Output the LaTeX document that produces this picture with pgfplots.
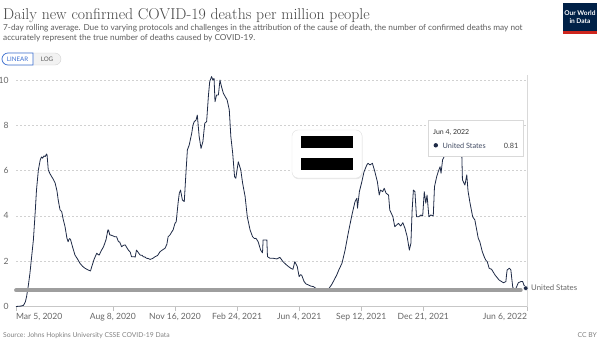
\documentclass[border=0pt]{standalone}
\usepackage{pgfplots}
\pgfplotsset{compat=1.18}
\usepackage{fontspec}
\newfontfamily\lato{Lato}
\usetikzlibrary{shadows}
\definecolor{usline}{RGB}{30,42,70}
\definecolor{owidnavy}{RGB}{0,33,71}
\definecolor{owidred}{RGB}{206,38,30}
\definecolor{txtgray}{RGB}{92,92,92}
\definecolor{tickgray}{RGB}{102,102,102}
\definecolor{btnblue}{RGB}{60,111,209}
\begin{document}
\begin{tikzpicture}[x=1bp,y=-1bp]
\path[use as bounding box] (0,0) rectangle (600,342);
% title block
\node[anchor=base west, inner sep=0pt, text=black!72] at (3,19.5) {\fontsize{15.8}{18}\selectfont Daily new confirmed COVID-19 deaths per million people};
\node[anchor=base west, inner sep=0pt, text=txtgray] at (3,30) {\lato\fontsize{8.3}{9}\selectfont 7-day rolling average. Due to varying protocols and challenges in the attribution of the cause of death, the number of confirmed deaths may not};
\node[anchor=base west, inner sep=0pt, text=txtgray] at (3,40.5) {\lato\fontsize{8.3}{9}\selectfont accurately represent the true number of deaths caused by COVID-19.};
% logo
\fill[owidnavy] (563,3) rectangle (597,31);
\fill[owidred] (563,31) rectangle (597,33.5);
\node[text=white, inner sep=0pt, align=center, font=\lato\bfseries\fontsize{6.6}{7.4}\selectfont] at (580,17) {Our World\\in Data};
% buttons
\draw[draw=black!18, fill=black!5, rounded corners=6bp] (2,53) rectangle (61,65);
\draw[draw=btnblue, fill=white, line width=0.7bp] (33,53) [rounded corners=6bp] -- (2,53) -- (2,65) [sharp corners] -- (33,65) -- cycle;
\node[text=btnblue, inner sep=0pt] at (17.5,59.2) {\lato\fontsize{6.2}{7}\selectfont LINEAR};
\node[text=black!65, inner sep=0pt] at (47,59.2) {\lato\fontsize{6.2}{7}\selectfont LOG};
\begin{axis}[
  at={(16bp,-306.5bp)}, anchor=south west,
  scale only axis, width=511bp, height=232.2bp,
  xmin=0, xmax=823, ymin=0, ymax=10.25,
  axis line style={draw=none},
  tick pos=left, tick align=outside,
  xtick={0,156,256,356,456,556,656,823},
  xticklabels={{\makebox[0pt][l]{Mar 5, 2020}},{Aug 8, 2020},{Nov 16, 2020},{Feb 24, 2021},{Jun 4, 2021},{Sep 12, 2021},{Dec 21, 2021},{\makebox[0pt][r]{Jun 6, 2022}}},
  ytick={0,2,4,6,8,10},
  major tick length=4bp,
  xtick style={draw=black!25, line width=0.5bp},
  ytick style={draw=none},
  ymajorgrids,
  grid style={draw=black!18, dash pattern=on 2bp off 2bp, line width=0.5bp},
  ticklabel style={font=\lato\fontsize{8.6}{10}\selectfont, text=tickgray},
  xticklabel style={yshift=0.5bp},
  /pgf/number format/assume math mode=true,
  clip=false,
]
\draw[black!22, line width=0.6bp] (axis cs:0,0) -- (axis cs:823,0);
\draw[black!15, line width=0.6bp] (axis cs:823,0) -- (axis cs:823,10.2);
\addplot[color=usline, line width=0.8bp, line join=round] table {
0 0
8 0.02
12 0.05
15 0.2
17 0.43
20 0.95
22.5 1.48
25 2.15
28 2.94
31 4.2
33 5.14
36 6.02
39 6.47
41 6.60
43 6.55
45 6.65
47 6.62
49 6.73
50 6.70
52 6.02
55 5.85
57.5 5.73
60 5.62
63 5.45
66 5.1
68 4.70
70 4.40
71 4.26
73.6 4.19
76 3.85
79 3.52
82 3.02
84 2.86
85 2.95
86.5 3.0
88 2.94
91 2.64
95 2.27
99 2.1
103 1.91
107 1.78
111 1.69
115 1.63
119 1.58
120 1.57
122 1.76
126 2.1
130 2.35
132 2.30
134 2.27
137 2.45
141 2.64
145 2.95
148 3.38
149 3.38
151 3.16
153 3.15
156 3.12
159 3.08
162 3.08
165 2.86
167 2.85
170 2.64
173 2.70
176 2.72
178 2.62
181 2.49
184 2.40
186 2.20
190 2.20
192 2.18
194 2.49
197 2.38
200 2.27
203 2.26
205 2.20
208 2.18
210 2.13
213 2.12
216 2.08
220 2.12
224 2.20
228 2.25
232 2.42
236 2.50
240 2.57
243 2.75
245 3.08
248 3.16
251 3.30
253 3.38
256 3.67
258 3.74
261 4.56
263 5.0
265 5.14
268 4.70
271 4.63
274 6.03
276 6.91
279 7.13
283 7.65
285 8.0
287 8.16
290 8.23
292 8.45
295 7.50
298 6.98
301 7.28
304 8.09
307 8.16
310 9.34
312 9.93
315 10.15
317 10.0
319 10.07
320.5 9.04
323 9.34
326 9.34
328.5 10.0
331 9.70
334 9.41
337 9.26
340 9.12
343.5 8.68
346 7.50
349 6.76
352 5.73
354 5.66
358 6.39
362 6.03
365 5.44
369 4.85
372.5 3.96
377 3.38
381 3.08
384 3.0
386.5 3.01
390 2.86
394 2.49
397 2.37
398 2.94
404 2.94
405 2.20
409 2.13
414 2.13
420 2.10
425 2.17
430 1.98
435 1.85
439 1.76
443 1.68
446 1.64
449 1.98
453 1.76
456 1.32
458 1.40
460 1.39
464 1.10
467 1.0
471 0.95
475 0.9
479 0.88
483 0.80
487 0.73
492 0.70
495 0.74
498 0.80
503 0.76
508 0.95
512 1.15
516.5 1.39
520 1.62
525 1.91
530 2.49
535 3.23
541 4.04
546 4.63
549 4.78
550 4.34
553 5.07
557 5.51
560.5 5.95
565 6.25
567 6.32
570 6.25
574 6.32
578 5.95
582 5.51
585 4.92
587 5.14
590.5 5.07
593 5.22
596 5.00
600 4.92
602 4.26
607 3.96
610 3.52
613 3.60
616 3.67
619.5 3.55
623 3.70
626.5 3.45
630 3.08
633.5 2.49
636 2.79
638 4.26
640 5.14
642.5 5.07
645 3.96
648.5 3.96
652 4.04
655 4.00
657.5 5.07
660 4.56
662 4.92
665 3.96
668 4.04
672 4.00
674 5.29
677.5 5.73
680 5.95
683 6.17
684.5 5.88
687 6.47
691 6.69
695 7.2
700 7.7
705 7.85
710 7.6
715 7.2
718 6.69
719 5.59
723 5.36
726 5.81
728 5.1
731 4.6
735.5 3.96
739 3.82
744.5 3.01
747 2.86
751 2.42
754 2.20
756.5 2.05
759 1.98
762 1.69
766 1.64
771.5 1.39
778 1.17
785 1.05
789 1.10
790 1.40
791 1.61
794.5 1.69
796 1.65
797 1.61
799 1.1
800 0.85
802.5 0.76
805 0.79
809 1.05
813 1.10
816 1.10
818 0.95
821 0.81
};
\addplot[color=black!38, line width=3.8bp, line cap=round] coordinates {(0,0.72) (813,0.72)};
\addplot[only marks, mark=*, mark size=2.3bp, color=usline, mark options={draw=white, line width=0.4bp}] coordinates {(821,0.81)};
\end{axis}
% end label
\node[anchor=base west, inner sep=0pt, text=tickgray] at (531,290.5) {\lato\fontsize{7.8}{9}\selectfont United States};
% redaction box
\draw[draw=black!12, fill=white, rounded corners=6bp, drop shadow={opacity=0.18, shadow xshift=0.6bp, shadow yshift=-1.2bp}] (292,130) rectangle (362,178);
\fill[black] (300.5,136) rectangle (352.5,148.3);
\fill[black] (300.5,157.7) rectangle (352.5,170);
% tooltip
\draw[draw=black!15, fill=white, drop shadow={opacity=0.15, shadow xshift=0.5bp, shadow yshift=-1bp}] (428,120.5) rectangle (523,156);
\node[anchor=base west, inner sep=0pt, text=black!80] at (433,134) {\lato\fontsize{7}{8}\selectfont Jun 4, 2022};
\fill[usline] (435.8,145.3) circle (2.2bp);
\node[anchor=base west, inner sep=0pt, text=usline!85] at (442.5,148.2) {\lato\fontsize{7.3}{8}\selectfont United States};
\node[anchor=base east, inner sep=0pt, text=black!75] at (518.5,148.2) {\lato\fontsize{7.3}{8}\selectfont 0.81};
% footer
\node[anchor=base west, inner sep=0pt, text=black!50] at (3,337) {\lato\fontsize{6.8}{8}\selectfont Source: Johns Hopkins University CSSE COVID-19 Data};
\node[anchor=base east, inner sep=0pt, text=black!50] at (597,337) {\lato\fontsize{6.8}{8}\selectfont CC BY};
\end{tikzpicture}
\end{document}
